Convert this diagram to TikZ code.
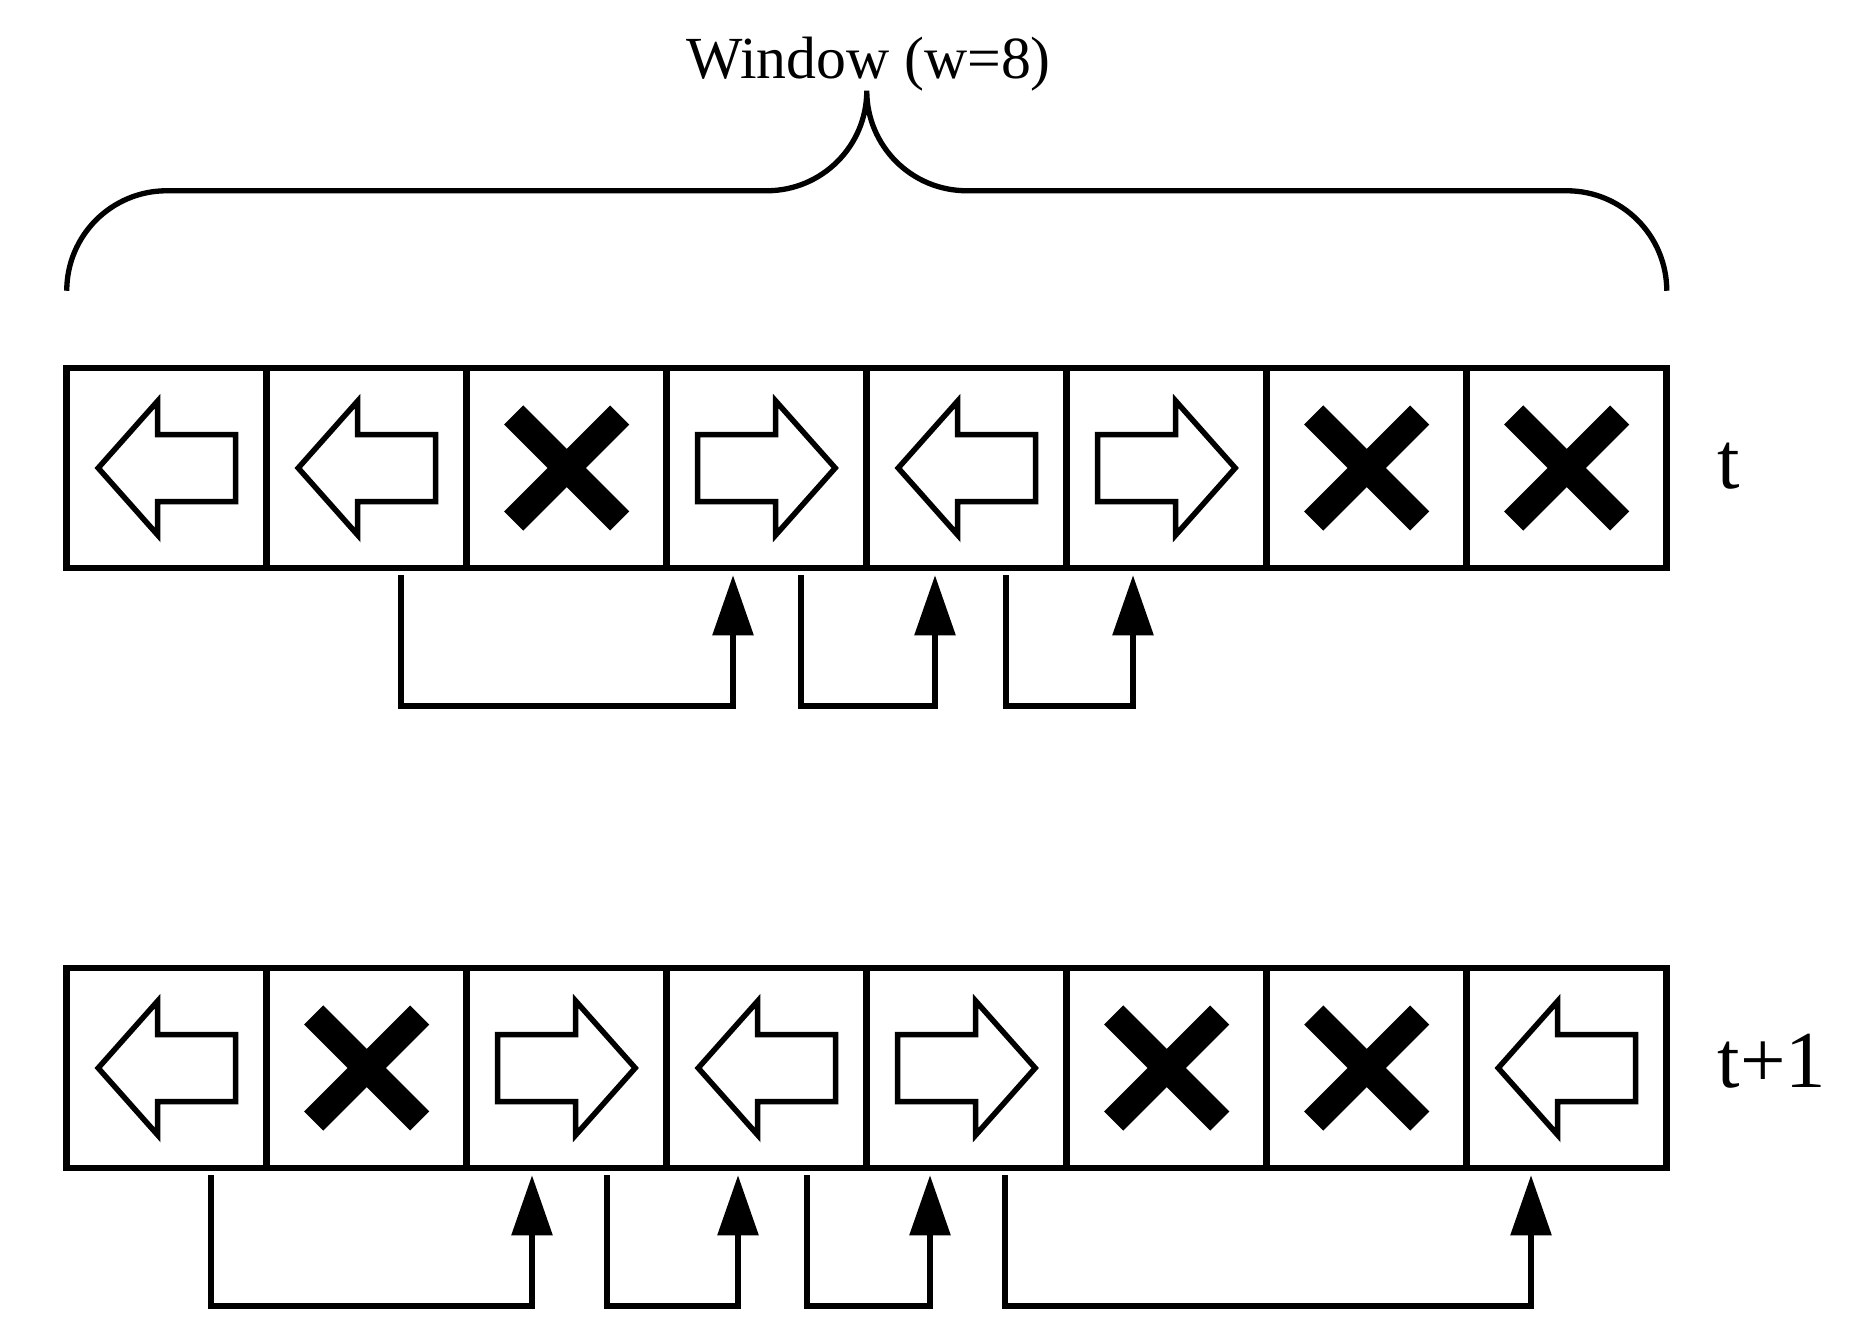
\documentclass[tikz,border=0pt]{standalone}
\usepackage{fontspec}
\setmainfont{Liberation Serif}
\usetikzlibrary{arrows.meta,calc,positioning}

\tikzset{
  cell/.style={draw, line width=0.065cm, minimum size=2cm, inner sep=0pt},
  link/.style={line width=0.057cm, -{Triangle[length=0.6cm,width=0.4cm]}},
  pics/goleft/.style={code={
    \draw[line width=0.055cm] (-0.685,0) -- (-0.09,0.67) -- (-0.09,0.335) -- (0.69,0.335)
      -- (0.69,-0.335) -- (-0.09,-0.335) -- (-0.09,-0.67) -- cycle;}},
  pics/goright/.style={code={
    \draw[line width=0.055cm] (0.685,0) -- (0.09,0.67) -- (0.09,0.335) -- (-0.69,0.335)
      -- (-0.69,-0.335) -- (0.09,-0.335) -- (0.09,-0.67) -- cycle;}},
  pics/blocked/.style={code={
    \draw[line width=0.27cm] (-0.53,-0.53) -- (0.53,0.53);
    \draw[line width=0.27cm] (-0.53,0.53) -- (0.53,-0.53);}}
}

\begin{document}
\begin{tikzpicture}
  \useasboundingbox (0,0) rectangle (18.6,-13.42);

  % the two rows of cells
  \foreach \i in {1,...,8} {
    \node[cell] (a\i) at (2*\i-0.333,-4.68) {};
    \node[cell] (b\i) at (2*\i-0.333,-10.68) {};
  }

  % row t
  \foreach \i in {1,2,5} \pic at (a\i) {goleft};
  \foreach \i in {4,6} \pic at (a\i) {goright};
  \foreach \i in {3,7,8} \pic at (a\i) {blocked};

  % row t+1
  \foreach \i in {1,4,8} \pic at (b\i) {goleft};
  \foreach \i in {3,5} \pic at (b\i) {goright};
  \foreach \i in {2,6,7} \pic at (b\i) {blocked};

  \node[anchor=base west, inner sep=0pt, font=\fontsize{23}{27}\selectfont] (lt) at (17.17,-4.88) {t};
  \node[anchor=base west, inner sep=0pt, font=\fontsize{23}{27}\selectfont] (lt1) at (17.17,-10.87) {t+1};

  % window brace
  \node[anchor=base, font=\fontsize{17}{20}\selectfont] (win) at (8.685,-0.78) {Window (w=8)};
  \coordinate (bl) at ($(a1.north west)+(0.033,0.74)$);
  \draw[line width=0.053cm] (bl) arc[start angle=180, end angle=90, radius=1]
    -- ++(6,0) arc[start angle=270, end angle=360, radius=1]
    arc[start angle=180, end angle=270, radius=1] -- ++(6,0)
    arc[start angle=90, end angle=0, radius=1];

  % moves from t
  \draw[link] ($(a2.south)+(0.343,-0.04)$) -- ++(0,-1.31) -| ($(a4.south)+(-0.337,-0.04)$);
  \draw[link] ($(a4.south)+(0.343,-0.04)$) -- ++(0,-1.31) -| ($(a5.south)+(-0.317,-0.04)$);
  \draw[link] ($(a5.south)+(0.393,-0.04)$) -- ++(0,-1.31) -| ($(a6.south)+(-0.337,-0.04)$);

  % moves from t+1
  \draw[link] ($(b1.south)+(0.443,-0.04)$) -- ++(0,-1.31) -| ($(b3.south)+(-0.347,-0.04)$);
  \draw[link] ($(b3.south)+(0.403,-0.04)$) -- ++(0,-1.31) -| ($(b4.south)+(-0.287,-0.04)$);
  \draw[link] ($(b4.south)+(0.403,-0.04)$) -- ++(0,-1.31) -| ($(b5.south)+(-0.367,-0.04)$);
  \draw[link] ($(b5.south)+(0.383,-0.04)$) -- ++(0,-1.31) -| ($(b8.south)+(-0.357,-0.04)$);
\end{tikzpicture}
\end{document}
